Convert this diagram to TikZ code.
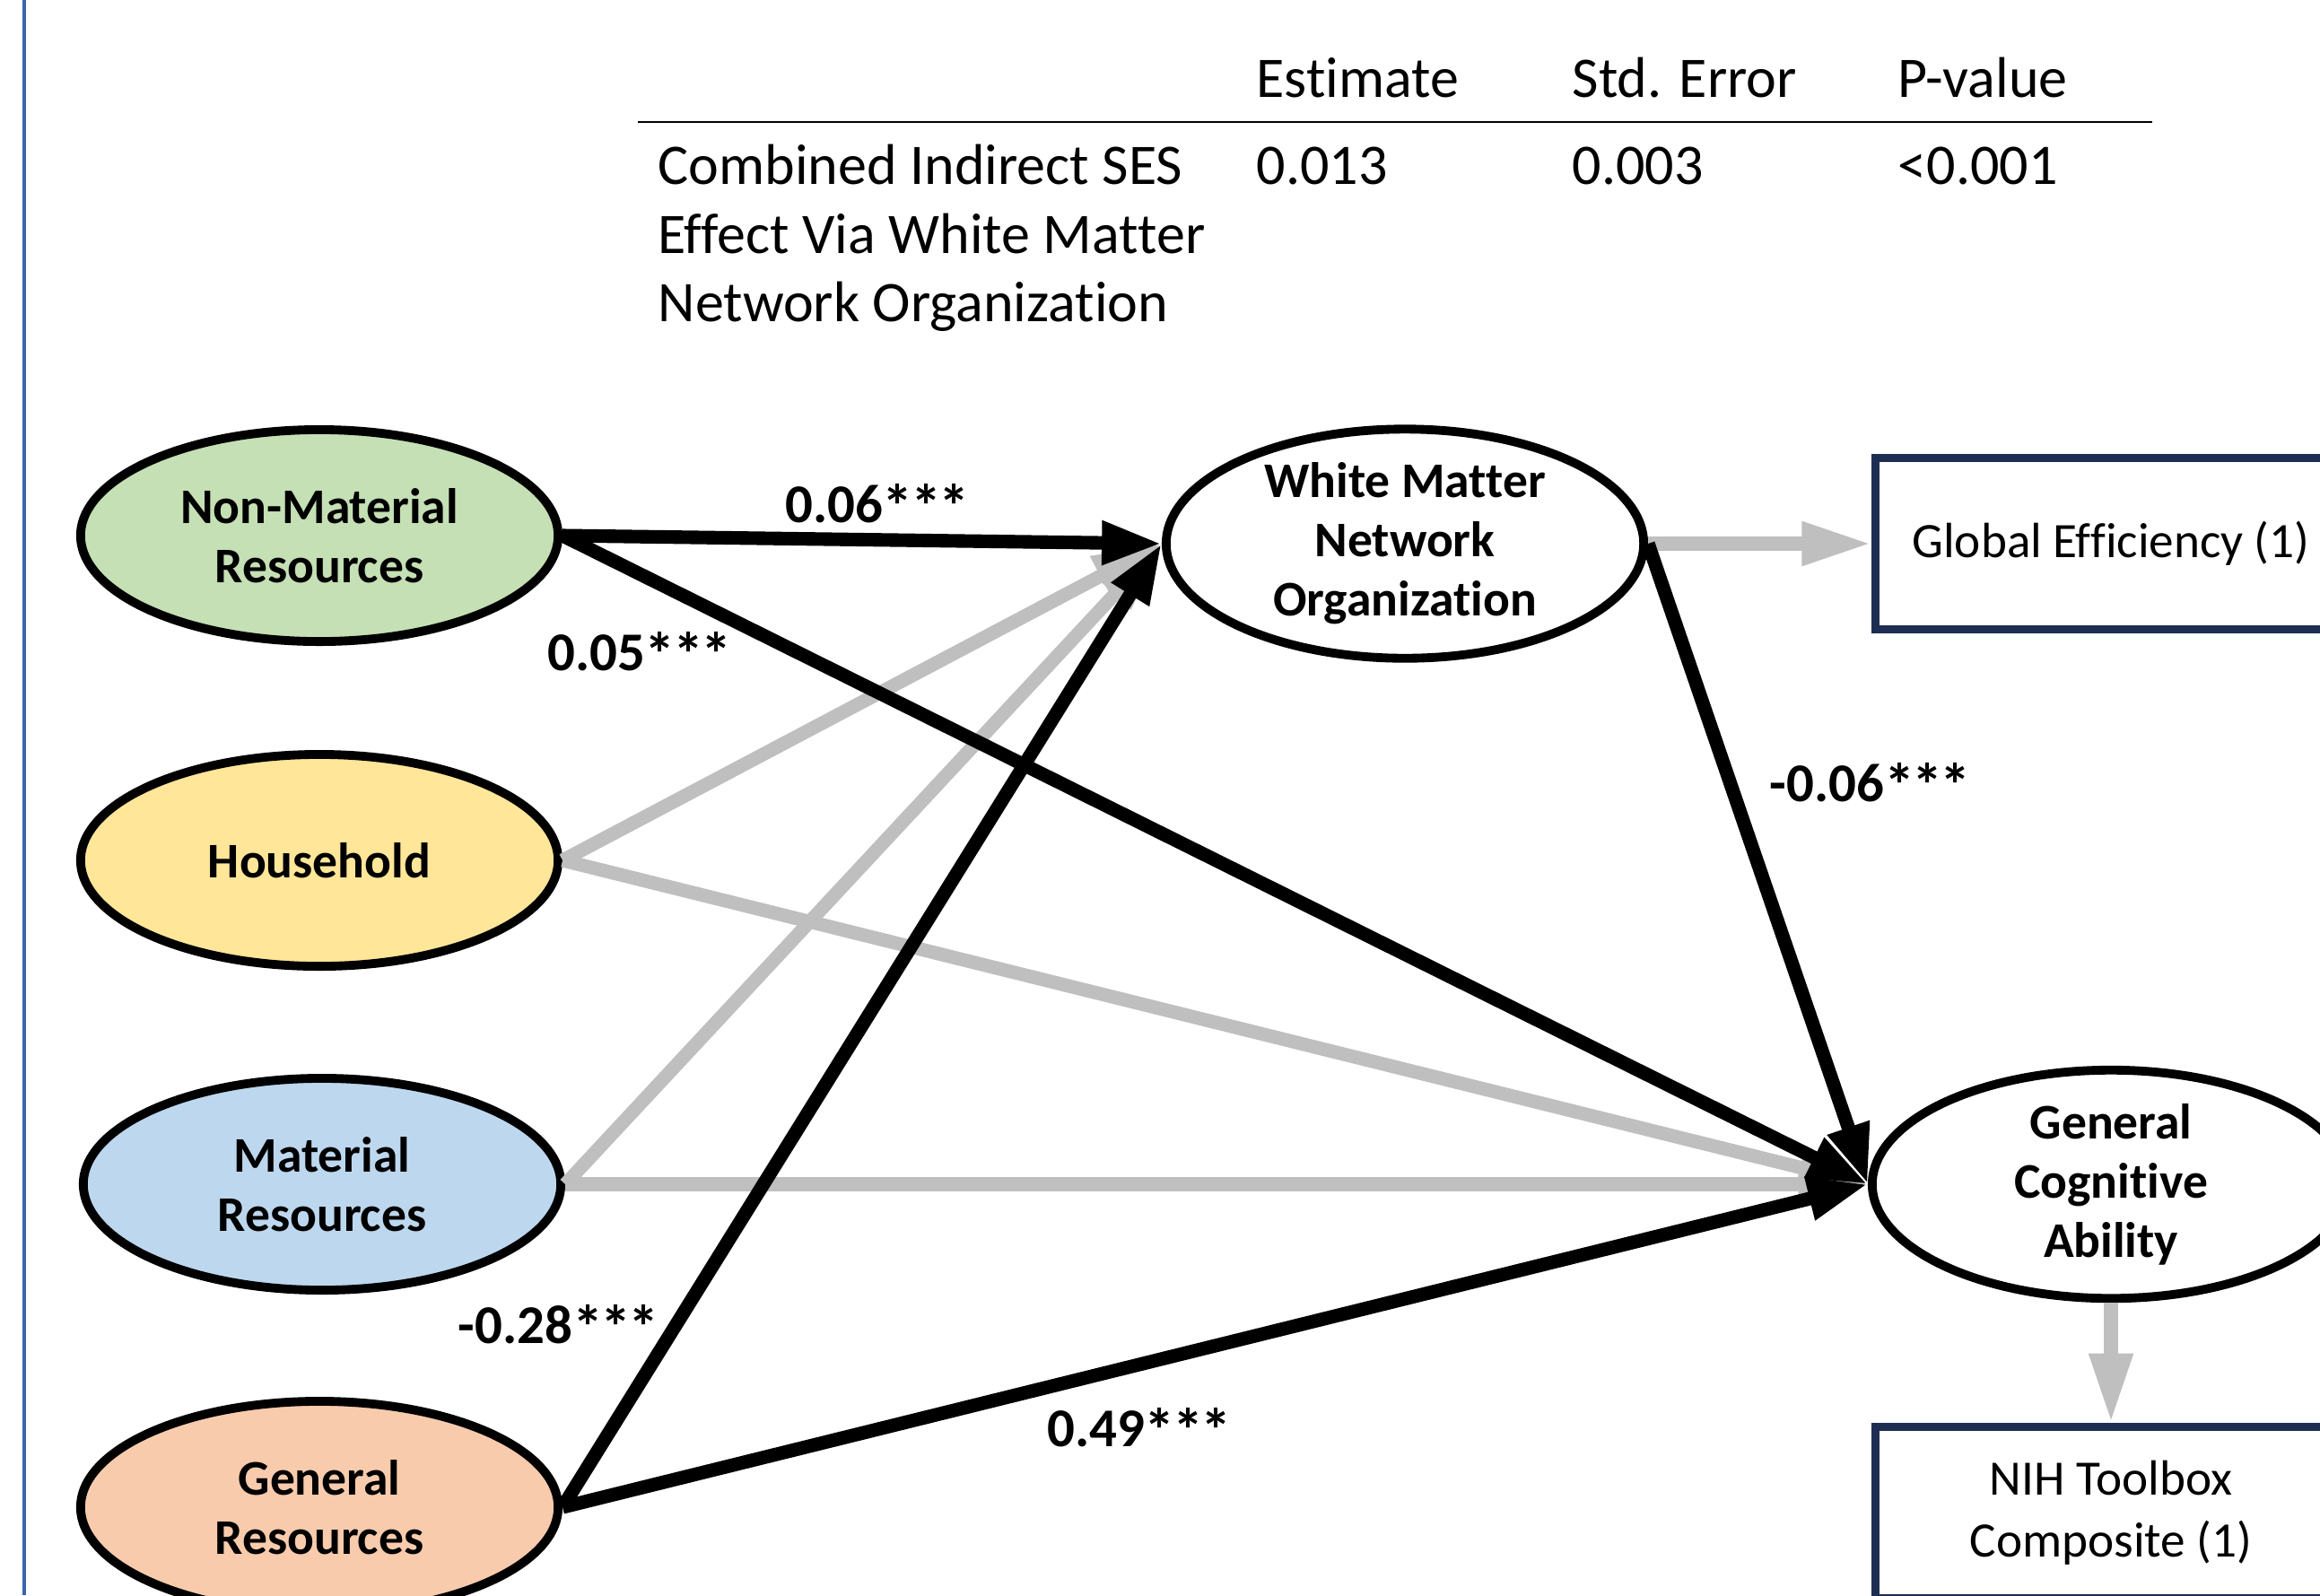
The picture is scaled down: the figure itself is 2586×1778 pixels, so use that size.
\documentclass[tikz,border=0pt]{standalone}
\usepackage{fontspec}
\setmainfont{Carlito}[Ligatures=NoCommon]
\usetikzlibrary{shapes.geometric,arrows.meta}

\definecolor{nmgreen}{HTML}{C5E0B4}
\definecolor{hhyellow}{HTML}{FFE699}
\definecolor{mrblue}{HTML}{BDD7EE}
\definecolor{grorange}{HTML}{F8CBAD}
\definecolor{pathgray}{HTML}{BFBFBF}
\definecolor{boxnavy}{HTML}{1E2D52}
\definecolor{sideblue}{HTML}{3B64AD}

\newcommand{\sigstars}{\raisebox{-1.8pt}{\fontsize{19.5}{20}\selectfont *\kern-0.8pt*\kern-0.8pt*}}

\tikzset{
  latent/.style={ellipse, draw, line width=2.8pt, minimum width=5.32cm, minimum height=2.36cm,
    inner sep=0pt, align=center, font=\fontsize{15.8}{18.8}\selectfont\bfseries},
  indicator/.style={draw=boxnavy, line width=2.6pt, minimum width=5.25cm, minimum height=1.91cm,
    inner sep=0pt, align=center, font=\fontsize{15.7}{19.5}\selectfont},
  sig/.style={line width=4.3pt, -{Triangle[length=19pt,width=13pt]}},
  nonsig/.style={line width=4.3pt, pathgray, -{Triangle[length=22pt,width=13pt]}},
  coef/.style={font=\fontsize{17.3}{20}\selectfont\bfseries, inner sep=0pt, anchor=base},
  cell/.style={font=\fontsize{18.2}{22}\selectfont, inner sep=0pt, anchor=base west}
}

\begin{document}
\begin{tikzpicture}[x=0.01cm,y=-0.01cm]
\clip (0,0) rectangle (2586,1778);
\draw[line width=1.4pt, sideblue] (27,0) -- (27,1778);

% table of the indirect effect
\foreach \x/\hd in {1400/Estimate, 1752/Std. Error, 2115/P-value}
  \node[cell] (hd\x) at (\x,108) {\hd};
\draw[line width=0.8pt] (711,136) -- (2399,136);
\foreach \y/\txt in {205/Combined Indirect SES, 282/Effect Via White Matter, 358/Network Organization}
  \node[cell] (row\y) at (733,\y) {\txt};
\foreach \x/\val in {1400/0.013, 1752/0.003, 2115/{<0.001}}
  \node[cell] (val\x) at (\x,205) {\val};

% SES factors
\node[latent, fill=nmgreen] (nonmat) at (356,597) {Non-Material\\Resources};
\node[latent, fill=hhyellow] (household) at (356,959) {Household};
\node[latent, fill=mrblue] (material) at (359,1320) {Material\\Resources};
\node[latent, fill=grorange] (general) at (356,1680) {General\\Resources};

% mediator, outcome and indicators
\node[latent, fill=white] (wmno) at (1566,606) {White Matter\\Network\\Organization};
\node[latent, fill=white] (gca) at (2353,1320) {General\\Cognitive\\Ability};
\node[indicator] (globeff) at (2353,606) {Global Efficiency (1)};
\node[indicator] (nihtb) at (2353,1686) {NIH Toolbox\\Composite (1)};

% non-significant paths
\foreach \src in {household, material}{
  \draw[nonsig] (\src.east) -- (wmno.west);
  \draw[nonsig] (\src.east) -- (gca.west);
}
\draw[nonsig] (wmno.east) -- (globeff.west);
\draw[nonsig] (gca.south) -- (nihtb.north);

% significant paths
\draw[sig] (nonmat.east) -- (wmno.west);
\draw[sig] (nonmat.east) -- (gca.west);
\draw[sig] (general.east) -- (wmno.west);
\draw[sig] (general.east) -- (gca.west);
\draw[sig] (wmno.east) -- (gca.west);

\node[coef] (c-nmwm) at (978,582) {0.06\sigstars};
\node[coef] (c-nmgca) at (713,747) {0.05\sigstars};
\node[coef] (c-grwm) at (623,1497) {-0.28\sigstars};
\node[coef] (c-grgca) at (1270,1612) {0.49\sigstars};
\node[coef] (c-wmgca) at (2085,893) {-0.06\sigstars};
\end{tikzpicture}
\end{document}
